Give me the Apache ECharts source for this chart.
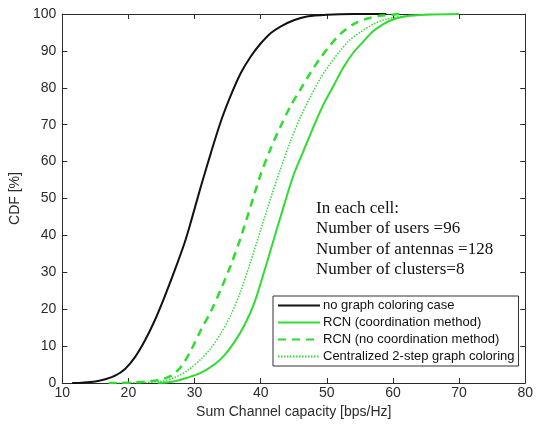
<!DOCTYPE html>
<html>
<head>
<meta charset="utf-8">
<script src="https://cdn.jsdelivr.net/npm/echarts@6/dist/echarts.min.js"></script>
<style>
html,body{margin:0;padding:0;background:#fff;}
#chart{width:536px;height:432px;}
</style>
</head>
<body>
<div id="chart"></div>
<script>
// ---- Data ----
var xTicks = [10, 20, 30, 40, 50, 60, 70, 80];
var yTicks = [0, 10, 20, 30, 40, 50, 60, 70, 80, 90, 100];

var seriesNames = [
  'no graph coloring case',
  'RCN (coordination method)',
  'RCN (no coordination method)',
  'Centralized 2-step graph coloring'
];

var noColorX = [11.5, 13, 15, 16.5, 18, 19.5, 21, 22.5, 24, 25.5, 27, 28.5, 29.5, 31, 32.5, 34, 35.5, 37, 38.5, 40, 41.5, 43, 45, 47, 50, 54, 59];
var noColorY = [0, 0.1, 0.4, 1, 2, 3.8, 7, 11.5, 17, 23.5, 30.5, 38, 44, 53.5, 62.5, 71, 78, 84, 88.5, 92, 94.8, 96.6, 98.3, 99.3, 99.8, 100, 100];

var coordX = [24.5, 27, 29, 31, 33, 34.5, 36, 37.5, 39, 40.5, 42, 43.5, 45, 46.5, 48, 49.5, 51, 52.5, 54, 55.5, 57, 58.5, 60, 62, 65, 70];
var coordY = [0, 0.5, 1.5, 2.8, 5, 7.5, 11, 15.5, 21.5, 30, 39, 48, 56.5, 63, 69.5, 75.5, 80.5, 85.5, 89.5, 92.5, 95.3, 97.2, 98.5, 99.4, 99.8, 100];

var noCoordX = [17, 20, 23, 25, 26.5, 28, 29.5, 31, 32.5, 34, 35.5, 37, 38.5, 40, 41.5, 43, 44.5, 46, 47.5, 49, 50.5, 52, 54, 56, 58, 61];
var noCoordY = [0, 0.1, 0.4, 1, 2, 4.5, 9, 14.5, 19.5, 25.5, 32, 39.5, 48, 56.5, 63.5, 69.5, 75, 79.5, 84, 88, 91.5, 94.5, 97.2, 98.7, 99.5, 100];

var centralX = [18, 22, 25, 27, 29, 31, 32.5, 34, 35.5, 37, 38.5, 40, 41.5, 43, 44.5, 46, 47.5, 49, 50.5, 52, 53.5, 55, 57, 59, 62, 66];
var centralY = [0, 0.1, 0.5, 1.5, 3.5, 6.5, 9.5, 13.5, 18.5, 25, 33, 41.5, 50, 58, 65.5, 72, 77.5, 82.5, 86.5, 90, 93, 95, 97.2, 98.6, 99.5, 100];

var annotationLines = [
  'In each cell:',
  'Number of users =96',
  'Number of antennas =128',
  'Number of clusters=8'
];

function pairs(xs, ys) {
  return xs.map(function (x, i) { return [x, ys[i]]; });
}

var GREEN = '#2fdc2f';
var AXIS = '#2b2b2b';
var sans = '"Liberation Sans", Arial, sans-serif';

var chart = echarts.init(document.getElementById('chart'), null, {renderer: 'canvas'});

var baseX = {
  type: 'value', min: xTicks[0], max: xTicks[xTicks.length - 1], interval: 10,
  splitLine: {show: false},
  axisLine: {show: true, onZero: false, lineStyle: {color: AXIS, width: 1}},
  axisTick: {show: true, inside: true, length: 5, lineStyle: {color: AXIS}}
};
var baseY = {
  type: 'value', min: yTicks[0], max: yTicks[yTicks.length - 1], interval: 10,
  splitLine: {show: false},
  axisLine: {show: true, onZero: false, lineStyle: {color: AXIS, width: 1}},
  axisTick: {show: true, inside: true, length: 5, lineStyle: {color: AXIS}}
};

var option = {
  backgroundColor: '#fff',
  animation: false,
  grid: {left: 61, right: 7, top: 14, bottom: 49},
  xAxis: [
    Object.assign({}, baseX, {
      position: 'bottom',
      name: 'Sum Channel capacity [bps/Hz]',
      nameLocation: 'middle', nameGap: 20,
      nameTextStyle: {fontFamily: sans, fontSize: 14, color: AXIS, verticalAlign: 'top'},
      axisLabel: {fontFamily: sans, fontSize: 14, color: AXIS, margin: 3}
    }),
    Object.assign({}, baseX, {position: 'top', axisLabel: {show: false}})
  ],
  yAxis: [
    Object.assign({}, baseY, {
      position: 'left',
      name: 'CDF [%]',
      nameLocation: 'middle', nameGap: 34,
      nameTextStyle: {fontFamily: sans, fontSize: 14, color: AXIS},
      axisLabel: {fontFamily: sans, fontSize: 14, color: AXIS, margin: 6}
    }),
    Object.assign({}, baseY, {position: 'right', axisLabel: {show: false}})
  ],
  legend: {
    orient: 'vertical',
    left: 273, top: 296,
    backgroundColor: '#fff',
    borderColor: '#333', borderWidth: 1,
    padding: [3, 4, 3, 4],
    itemWidth: 42, itemHeight: 13, itemGap: 4,
    itemStyle: {opacity: 0},
    textStyle: {fontFamily: sans, fontSize: 13, color: '#111', padding: [0, 0, 0, -2]},
    data: seriesNames
  },
  graphic: [{
    type: 'text',
    left: 316, top: 198,
    style: {
      text: annotationLines.join('\n'),
      font: '17px "Liberation Serif", "Times New Roman", serif',
      lineHeight: 20.5,
      fill: '#111'
    }
  }],
  series: [
    {
      name: seriesNames[0], type: 'line', symbol: 'none', smooth: 0.3,
      data: pairs(noColorX, noColorY),
      lineStyle: {color: '#111', width: 2}, itemStyle: {color: '#111'}
    },
    {
      name: seriesNames[1], type: 'line', symbol: 'none', smooth: 0.3,
      data: pairs(coordX, coordY),
      lineStyle: {color: GREEN, width: 2}, itemStyle: {color: GREEN}
    },
    {
      name: seriesNames[2], type: 'line', symbol: 'none', smooth: 0.3,
      data: pairs(noCoordX, noCoordY),
      lineStyle: {color: GREEN, width: 2.5, type: [8, 6]}, itemStyle: {color: GREEN}
    },
    {
      name: seriesNames[3], type: 'line', symbol: 'none', smooth: 0.3,
      data: pairs(centralX, centralY),
      lineStyle: {color: GREEN, width: 1.5, type: [1.5, 1.5]}, itemStyle: {color: GREEN}
    }
  ]
};
chart.setOption(option);
</script>
</body>
</html>
